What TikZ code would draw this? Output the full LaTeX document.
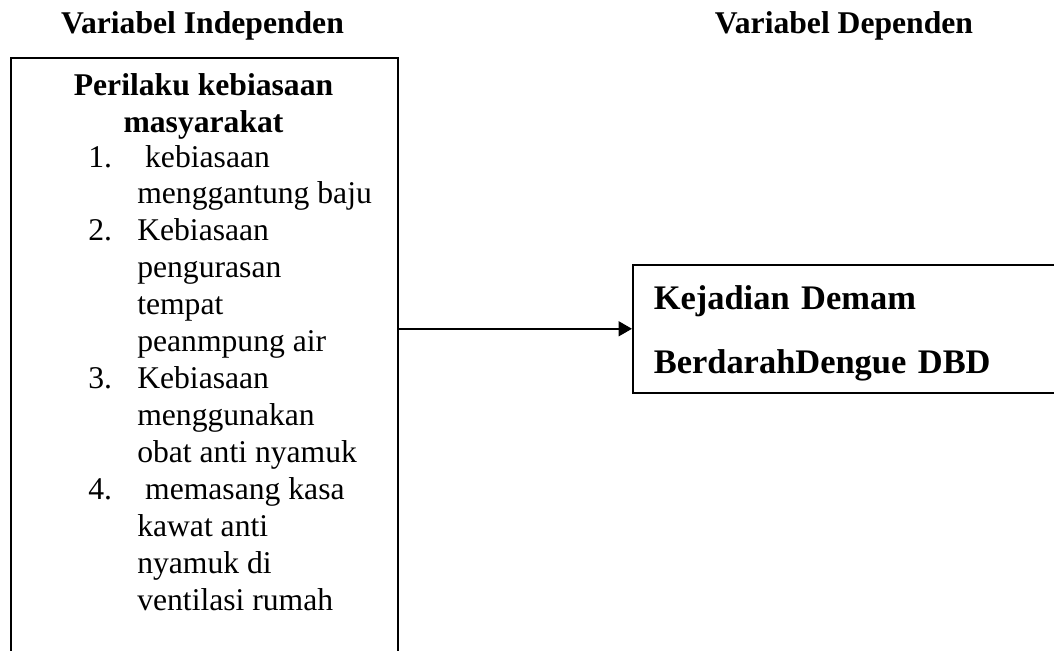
\documentclass[tikz,border=0pt]{standalone}
\usepackage{fontspec}
\setmainfont{Liberation Serif}
\usetikzlibrary{arrows.meta}
\tikzset{
  header/.style={
    font=\fontsize{22.5}{26.25}\selectfont\bfseries,
    inner sep=0pt,
    anchor=base
  },
  varbox/.style={
    rectangle,
    draw=black,
    line width=1.1pt,
    inner sep=0pt
  },
  itemtext/.style={
    font=\fontsize{22.5}{26.25}\selectfont,
    align=left,
    inner sep=0pt
  },
  flow/.style={
    -{Triangle[length=9.5pt,width=10.5pt]},
    line width=1.5pt
  }
}
\newcommand{\itemnum}[1]{\makebox[34.85pt][l]{#1}}
\newcommand{\itemgap}{\hspace*{34.85pt}}

\begin{document}
\begin{tikzpicture}[x=0.025cm, y=-0.025cm]
\clip (0,0) rectangle (1054,651);

% ---- Column headers ----
\node[header] (indephead) at (202.5,33) {Variabel Independen};
\node[header] (dephead) at (844,33) {Variabel Dependen};

% ---- Independent variable box ----
\node[varbox, anchor=north west, minimum width=9.675cm, minimum height=20cm]
  (indep) at (10,57) {};
% multi-line nodes sit on their last baseline
\node[header, align=center] (perilaku) at (203.5,132)
  {Perilaku kebiasaan\\masyarakat};
\node[itemtext, anchor=base west] (items) at (88,610) {
  \itemnum{1.}\ kebiasaan\\
  \itemgap menggantung baju\\
  \itemnum{2.}Kebiasaan\\
  \itemgap pengurasan\\
  \itemgap tempat\\
  \itemgap peanmpung air\\
  \itemnum{3.}Kebiasaan\\
  \itemgap menggunakan\\
  \itemgap obat anti nyamuk\\
  \itemnum{4.}\ memasang kasa\\
  \itemgap kawat anti\\
  \itemgap nyamuk di\\
  \itemgap ventilasi rumah
};

% ---- Dependent variable box ----
\node[varbox, anchor=north west, minimum width=12cm, minimum height=3.2cm,
  inner xsep=0.525cm, text width=10.95cm, align=left,
  font=\fontsize{24.5}{46.2}\selectfont\bfseries]
  (dbd) at (632,264) {\rule{0pt}{23.5pt}Kejadian Demam\\BerdarahDengue DBD};

% ---- Flow ----
\draw[flow] (indep.east |- dbd.west) -- (dbd.west);

\end{tikzpicture}
\end{document}
